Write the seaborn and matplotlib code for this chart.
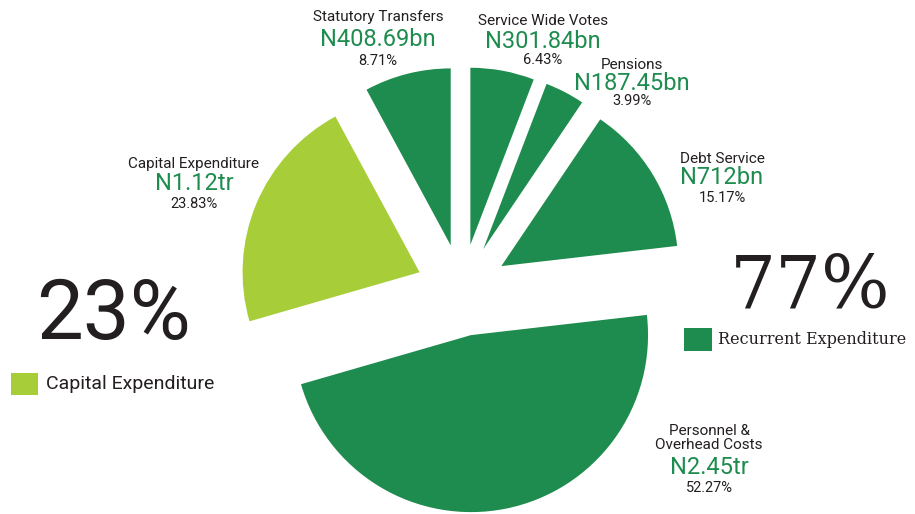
import matplotlib
matplotlib.use("Agg")
import matplotlib.pyplot as plt
from matplotlib.patches import Rectangle
import seaborn as sns

# ── data ────────────────────────────────────────────────────
categories = ["Service Wide Votes", "Pensions", "Debt Service",
              "Personnel &\nOverhead Costs", "Capital Expenditure",
              "Statutory Transfers"]
amounts = ["N301.84bn", "N187.45bn", "N712bn", "N2.45tr", "N1.12tr", "N408.69bn"]
shares = [6.43, 3.99, 15.17, 52.27, 23.83, 8.71]
is_capital = [False, False, False, False, True, False]

capital_total = "23%"
recurrent_total = "77%"

# ── style ───────────────────────────────────────────────────
sns.set_theme(style="white")
DARK = "#1e8c4e"
LIGHT = "#a7ce38"
INK = "#231f20"
colors = [LIGHT if c else DARK for c in is_capital]

plt.rcParams["font.family"] = ["Roboto", "DejaVu Sans"]

W, H = 915, 514
fig = plt.figure(figsize=(W / 100, H / 100), dpi=100)
ax = fig.add_axes([0, 0, 1, 1])

# explode is in data units here (radius is in pixels)
ax.pie(shares, colors=colors, startangle=90, counterclock=False,
       explode=[46] * len(shares), radius=177, center=(462, H - 290),
       wedgeprops=dict(linewidth=0))
ax.set_xlim(0, W)
ax.set_ylim(0, H)
ax.set_aspect("equal")
ax.axis("off")

# label anchor positions (image pixels, y from the top): name, value, pct
label_pos = {
    "Statutory Transfers": (378, 17, 40, 61),
    "Service Wide Votes": (543, 21, 41, 60),
    "Pensions": (632, 65, 83, 101),
    "Debt Service": (722, 159, 178, 198),
    "Capital Expenditure": (194, 164, 183, 204),
    "Personnel &\nOverhead Costs": (709, 438, 467, 488),
}

for cat, amt, pct in zip(categories, amounts, shares):
    x, y_name, y_val, y_pct = label_pos[cat]
    ax.text(x, H - y_name, cat, ha="center", va="center", fontsize=11,
            color=INK, linespacing=1.05)
    ax.text(x, H - y_val, amt, ha="center", va="center", fontsize=17,
            color=DARK)
    ax.text(x, H - y_pct, f"{pct:.2f}%", ha="center", va="center",
            fontsize=10.5, color=INK)

# big totals + legend keys
ax.text(114, H - 316, capital_total, ha="center", va="center",
        fontsize=60, color=INK)
ax.add_patch(Rectangle((11, H - 395), 27, 22, color=LIGHT, lw=0))
ax.text(46, H - 384, "Capital Expenditure", ha="left", va="center",
        fontsize=14, color=INK)

ax.text(810, H - 287, recurrent_total, ha="center", va="center",
        fontsize=52, color=INK, family="DejaVu Serif")
ax.add_patch(Rectangle((684, H - 351), 28, 23, color=DARK, lw=0))
ax.text(718, H - 339, "Recurrent Expenditure", ha="left", va="center",
        fontsize=11.5, color=INK, family="DejaVu Serif")

fig.savefig("out.png", dpi=100)
